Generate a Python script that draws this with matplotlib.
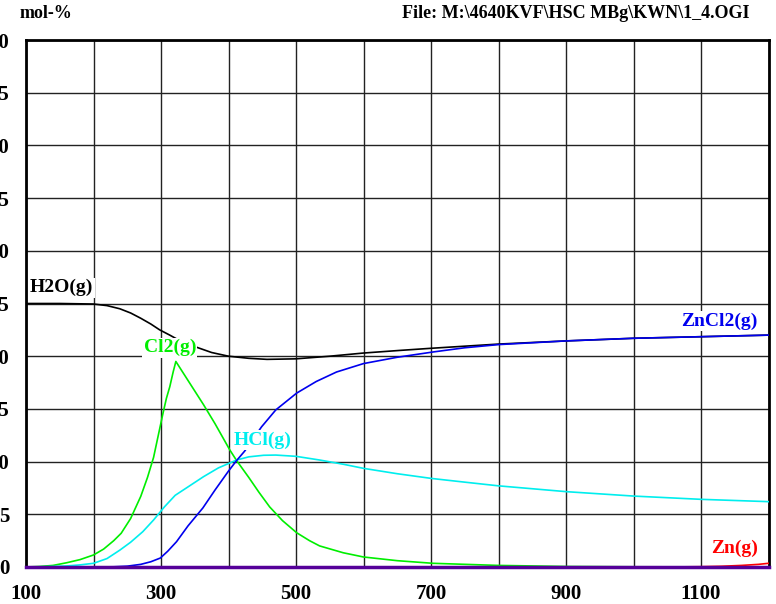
import numpy as np
import matplotlib
matplotlib.use("Agg")
import matplotlib.pyplot as plt

plt.rcParams['font.family'] = ['Liberation Serif', 'DejaVu Serif']
plt.rcParams['font.weight'] = 'bold'

# data (T in C, mol-%)
t_h2o = [100, 150, 200, 220, 239, 255, 270, 285, 298, 313, 330, 355, 375, 400, 430, 457, 500,
         550, 600, 654, 700, 750, 800, 900, 1000, 1100, 1200]
h2o = [25.0, 25.0, 24.95, 24.8, 24.5, 24.1, 23.6, 23.05, 22.5, 22.0, 21.4, 20.8, 20.35, 20.0, 19.8,
       19.7, 19.75, 20.0, 20.3, 20.55, 20.75, 20.95, 21.15, 21.45, 21.7, 21.85, 22.0]

t_zncl2 = [100, 200, 230, 250, 270, 285, 299, 310, 323, 340, 362, 380, 400, 412, 424, 449, 470,
           501, 530, 560, 600, 650, 703, 750, 800, 900, 1000, 1100, 1200]
zncl2 = [0.0, 0.0, 0.02, 0.08, 0.25, 0.5, 0.85, 1.5, 2.4, 3.9, 5.6, 7.3, 9.1, 10.1, 11.0, 13.3, 14.9,
         16.5, 17.6, 18.5, 19.3, 19.9, 20.4, 20.8, 21.1, 21.45, 21.7, 21.85, 22.0]

t_cl2 = [100, 120, 140, 160, 180, 200, 215, 230, 241, 255, 270, 280, 289, 296, 303, 308, 313, 318,
         322, 335, 350, 363, 380, 402, 412, 430, 445, 461, 480, 501, 520, 535, 570, 600, 650, 703,
         800, 900, 1000, 1200]
cl2 = [0.0, 0.05, 0.15, 0.4, 0.7, 1.14, 1.7, 2.5, 3.2, 4.6, 6.7, 8.5, 10.4, 12.5, 14.6, 16.0, 17.1,
       18.5, 19.5, 18.2, 16.7, 15.4, 13.6, 11.1, 10.1, 8.5, 7.1, 5.7, 4.4, 3.25, 2.5, 2.0, 1.35,
       0.95, 0.6, 0.35, 0.15, 0.05, 0.02, 0.0]

t_hcl = [100, 130, 160, 180, 200, 220, 239, 255, 273, 289, 305, 321, 340, 363, 385, 412, 430, 452,
         470, 500, 535, 570, 600, 650, 701, 750, 800, 900, 1000, 1100, 1200]
hcl = [0.0, 0.03, 0.1, 0.2, 0.35, 0.8, 1.6, 2.35, 3.35, 4.46, 5.7, 6.8, 7.6, 8.57, 9.4, 10.15, 10.45,
       10.6, 10.62, 10.5, 10.15, 9.75, 9.36, 8.85, 8.4, 8.05, 7.7, 7.15, 6.73, 6.42, 6.2]

t_zn = [100, 1050, 1100, 1130, 1160, 1185, 1200]
zn = [0.0, 0.0, 0.03, 0.07, 0.15, 0.25, 0.35]

t_rest = [100, 1200]
rest = [0.0, 0.0]

x_ticks = [100, 300, 500, 700, 900, 1100]
y_ticks = [0, 5, 10, 15, 20, 25, 30, 35, 40, 45, 50]

fig = plt.figure(figsize=(7.76, 6.04), dpi=100)
ax = fig.add_axes([26 / 776, 37 / 604, 742.5 / 776, 527 / 604])

ax.set_xlim(100, 1200)
ax.set_ylim(0, 50)
ax.set_xticks(np.arange(100, 1201, 100))
ax.set_xticklabels([str(v) if v in x_ticks else '' for v in range(100, 1201, 100)])
ax.set_yticks(y_ticks)
ax.set_yticklabels([str(v) for v in y_ticks])
ax.grid(True, color='#222222', lw=1.0)
ax.tick_params(length=0, labelsize=15, pad=12)
for s in ax.spines.values():
    s.set_linewidth(2)

lw = 1.2
ax.plot(t_h2o, h2o, color='black', lw=lw, zorder=3)
ax.plot(t_zncl2, zncl2, color='#0000ee', lw=lw, zorder=4)
ax.plot(t_cl2, cl2, color='#00ee00', lw=lw, zorder=3)
ax.plot(t_hcl, hcl, color='#00eeee', lw=lw, zorder=3)
ax.plot(t_zn, zn, color='red', lw=lw, zorder=3)
ax.plot(t_rest, rest, color='#550099', lw=2.5, zorder=5, clip_on=False)

box = dict(facecolor='white', edgecolor='none', pad=1)
fs = 14
ax.text(106, 26.5, 'H2O(g)', color='black', fontsize=fs, fontweight='bold', va='center', bbox=box, zorder=6)
ax.text(313, 20.8, 'Cl2(g)', color='#00ee00', fontsize=fs, fontweight='bold', ha='center', va='center', bbox=box, zorder=6)
ax.text(450, 12.05, 'HCl(g)', color='#00eeee', fontsize=fs, fontweight='bold', ha='center', va='center', bbox=box, zorder=6)
ax.text(1184, 23.3, 'ZnCl2(g)', color='#0000ee', fontsize=fs, fontweight='bold', ha='right', va='center', bbox=box, zorder=6)
ax.text(1185, 1.8, 'Zn(g)', color='red', fontsize=fs, fontweight='bold', ha='right', va='center', bbox=box, zorder=6)

fig.text(20 / 776, 1 - 14 / 604, 'mol-%', fontsize=13, fontweight='bold', va='center')
fig.text(750 / 776, 1 - 14 / 604, 'File: M:\\4640KVF\\HSC MBg\\KWN\\1_4.OGI', fontsize=13,
         fontweight='bold', va='center', ha='right')

fig.savefig('out.png', dpi=100)
